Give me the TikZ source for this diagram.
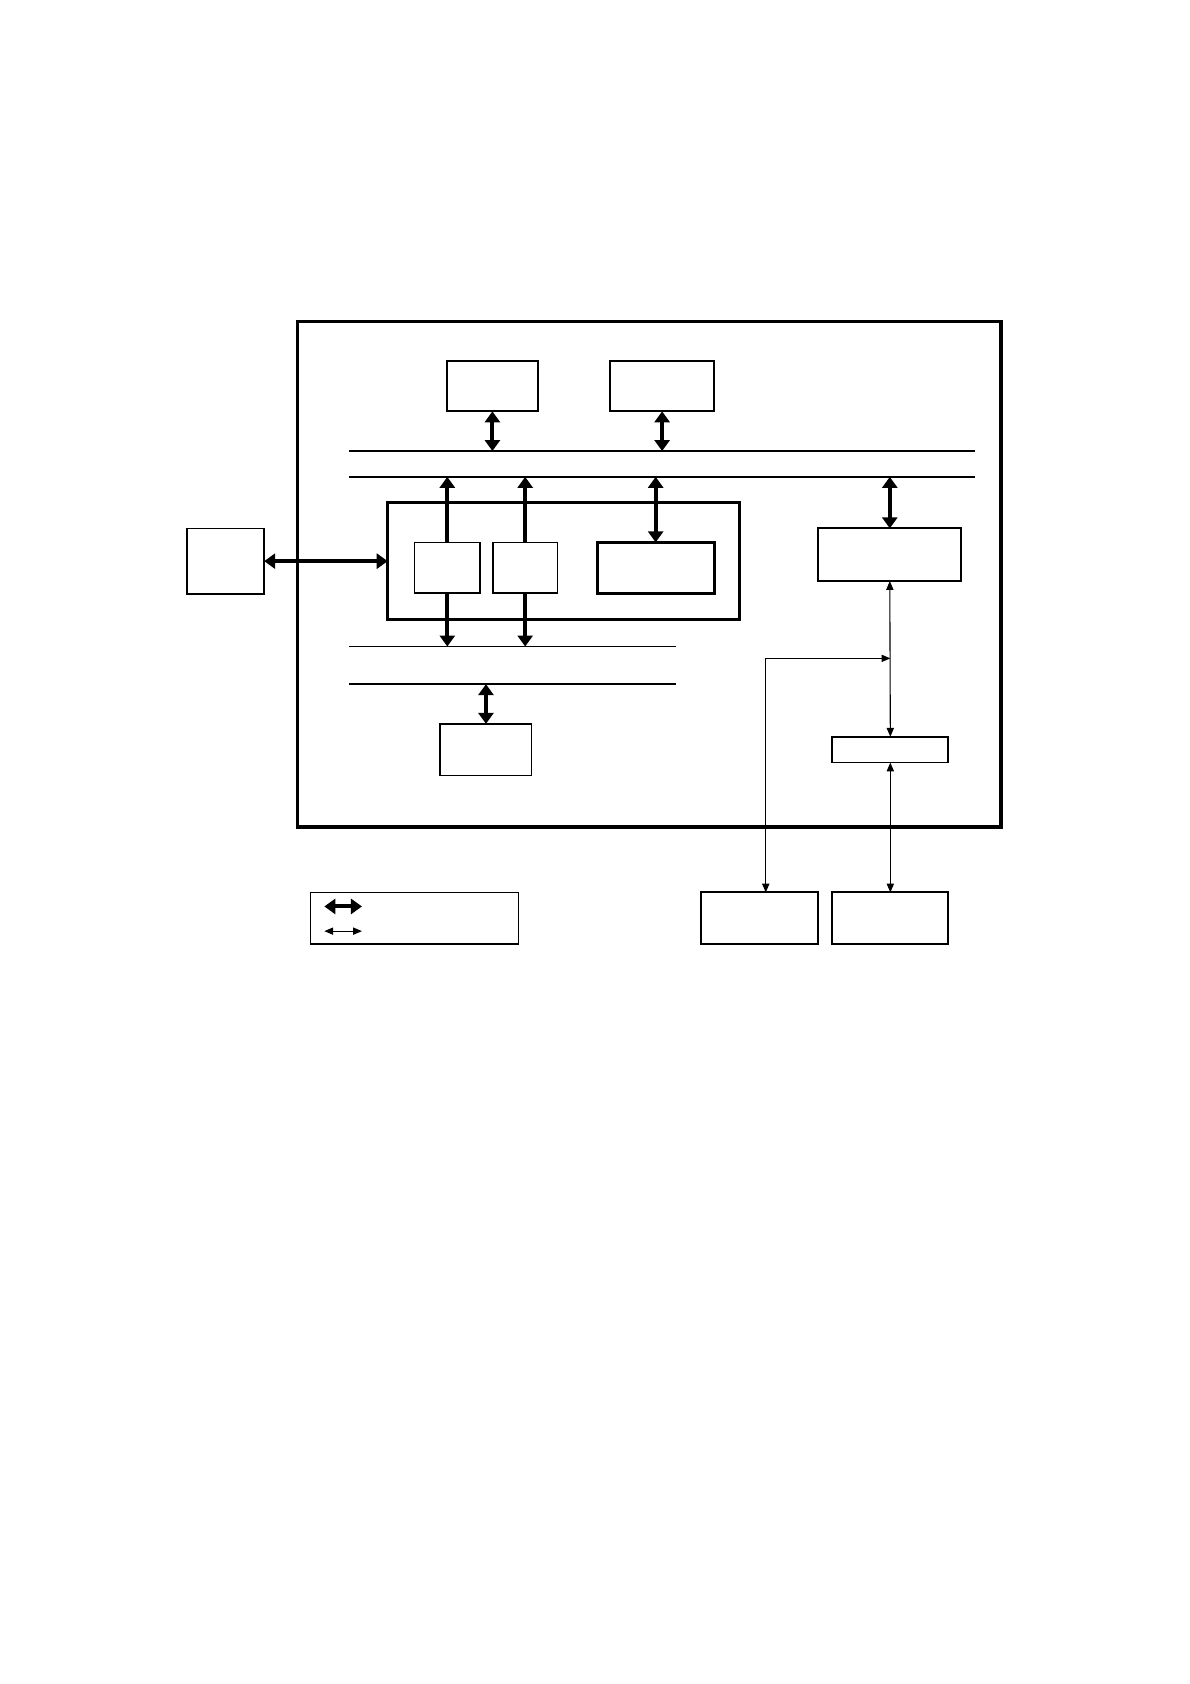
\documentclass[tikz,border=0pt]{standalone}
\usetikzlibrary{arrows.meta}
\newcommand{\pxu}{0.537pt}
\tikzset{
  blk/.style={draw, line width=0.85pt, inner sep=0pt, outer sep=0pt},
  heavyblk/.style={blk, line width=1.5pt},
  bus/.style={line width=0.9pt},
  fatarr/.style={line width=2pt, {Triangle[width=7.5pt,length=5.5pt]}-{Triangle[width=7.5pt,length=5.5pt]}},
  fatone/.style={line width=2pt, -{Triangle[width=7.5pt,length=5.5pt]}},
  slimarr/.style={line width=0.55pt, {Triangle[width=3.6pt,length=4.4pt]}-{Triangle[width=3.6pt,length=4.4pt]}}
}
\begin{document}
\begin{tikzpicture}[x=0.537pt, y=-0.537pt]
                \useasboundingbox (0,0) rectangle (1108,1568);

                % frame
                \draw[line width=1.6pt] (277,299) rectangle (932,770);

                \coordinate (bus1w) at (325,420);
                \coordinate (bus1e) at (908,420);
                \coordinate (bus2w) at (325,444);
                \coordinate (bus2e) at (908,444);
                \coordinate (bus3w) at (325,602);
                \coordinate (bus3e) at (629,602);
                \coordinate (bus4w) at (325,637);
                \coordinate (bus4e) at (629,637);

                \draw[bus] (bus1w) -- (bus1e);
                \draw[bus] (bus2w) -- (bus2e);
                \draw[bus] (bus3w) -- (bus3e);
                \draw[bus] (bus4w) -- (bus4e);

                \node[blk, minimum width=85*\pxu, minimum height=47*\pxu] (topA) at (458.5,359.5) {};
                \node[blk, minimum width=97*\pxu, minimum height=47*\pxu] (topB) at (616.5,359.5) {};
                \node[heavyblk, minimum width=328*\pxu, minimum height=109*\pxu] (grp) at (525,522.5) {};
                \node[blk, minimum width=61*\pxu, minimum height=47*\pxu] (cpuA) at (416.5,528.5) {};
                \node[blk, minimum width=60*\pxu, minimum height=47*\pxu] (cpuB) at (489,528.5) {};
                \node[heavyblk, minimum width=109*\pxu, minimum height=48*\pxu] (mem) at (610.5,529) {};
                \node[blk, minimum width=85*\pxu, minimum height=48*\pxu] (low) at (452.5,698) {};
                \node[blk, minimum width=72*\pxu, minimum height=61*\pxu] (ext) at (210,522.5) {};
                \node[blk, line width=1pt, minimum width=133*\pxu, minimum height=49*\pxu] (ctl) at (828.5,516.5) {};
                \node[blk, minimum width=108*\pxu, minimum height=24*\pxu] (port) at (829,698) {};
                \node[blk, line width=1pt, minimum width=109*\pxu, minimum height=48*\pxu] (devA) at (707.5,855) {};
                \node[blk, line width=1pt, minimum width=108*\pxu, minimum height=48*\pxu] (devB) at (829,855) {};
                \node[blk, line width=0.6pt, minimum width=194*\pxu, minimum height=48*\pxu] (key) at (386,855) {};

                % wide links
                \draw[fatarr] (topA.south) -- (topA.south |- bus1w);
                \draw[fatarr] (topB.south) -- (topB.south |- bus1w);
                \draw[fatone] (cpuA.north) -- (cpuA.north |- bus2w);
                \draw[fatone] (cpuB.north) -- (cpuB.north |- bus2w);
                \draw[fatarr] (mem.north |- bus2w) -- (mem.north);
                \draw[fatarr] (ctl.north |- bus2w) -- (ctl.north);
                \draw[fatone] (cpuA.south) -- (cpuA.south |- bus3w);
                \draw[fatone] (cpuB.south) -- (cpuB.south |- bus3w);
                \draw[fatarr] (low.north |- bus4w) -- (low.north);
                \draw[fatarr] (ext.east) -- (grp.west);

                % narrow links
                \coordinate (tap) at (829,613);
                \draw[slimarr] (ctl.south) -- (port.north);
                \draw[slimarr] (port.south) -- (devB.north);
                \draw[slimarr] (tap) -| ([xshift=5.5*\pxu]devA.north);

                % key
                \coordinate (keyA1) at (302,844);
                \coordinate (keyA2) at (337,844);
                \coordinate (keyB1) at (302,867);
                \coordinate (keyB2) at (337,867);
                \draw[fatarr] (keyA1) -- (keyA2);
                \draw[slimarr] (keyB1) -- (keyB2);
\end{tikzpicture}
\end{document}
